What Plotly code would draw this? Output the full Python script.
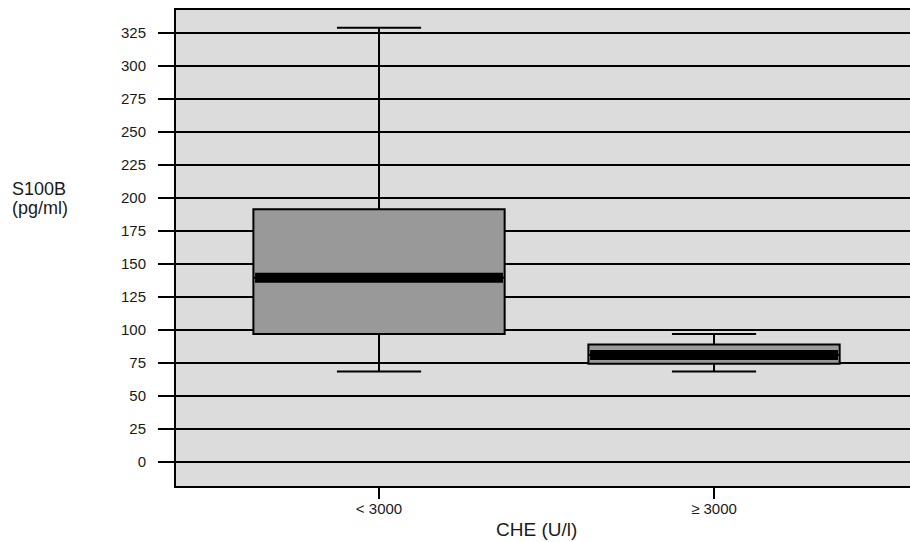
import plotly.graph_objects as go

categories = ["< 3000", "≥ 3000"]
positions = [0, 1]
lower_whisker = [68.5, 68.5]
q1 = [97, 74.5]
median = [139.5, 81]
q3 = [191.5, 89]
upper_whisker = [329, 97]
y_ticks = list(range(0, 326, 25))
y_title_lines = ["S100B", "(pg/ml)"]
x_title = "CHE (U/l)"

box_width = 0.75

fig = go.Figure()
for i, cat in enumerate(categories):
    fig.add_trace(go.Box(
        x=[positions[i]],
        q1=[q1[i]], median=[median[i]], q3=[q3[i]],
        lowerfence=[lower_whisker[i]], upperfence=[upper_whisker[i]],
        width=box_width, whiskerwidth=0.335,
        fillcolor="#999999",
        line=dict(color="black", width=2),
        boxpoints=False, showlegend=False, hoverinfo="skip",
    ))
    fig.add_trace(go.Scatter(
        x=[positions[i] - box_width / 2 + 0.005, positions[i] + box_width / 2 - 0.005],
        y=[median[i], median[i]],
        mode="lines", line=dict(color="black", width=10),
        showlegend=False, hoverinfo="skip",
    ))

font = "Liberation Sans, Arial, sans-serif"
txt = "#1a1a1a"
fig.update_layout(
    width=910, height=542,
    margin=dict(l=176, r=0, t=10, b=56),
    paper_bgcolor="white", plot_bgcolor="#dcdcdc",
    font=dict(family=font, color=txt),
    xaxis=dict(
        range=[-0.606, 1.585], tickvals=positions, ticktext=categories,
        showgrid=False, zeroline=False,
        showline=True, linecolor="black", linewidth=2, mirror=True,
        ticks="outside", ticklen=11, tickwidth=2, tickcolor="black",
        tickfont=dict(size=15), ticklabelstandoff=-3,
    ),
    yaxis=dict(
        range=[-18.2, 342.4], tickvals=y_ticks,
        showgrid=True, gridcolor="black", gridwidth=2,
        zeroline=False,
        showline=True, linecolor="black", linewidth=2,
        ticks="outside", ticklen=16, tickwidth=2, tickcolor="black",
        tickfont=dict(size=15), ticklabelstandoff=9,
    ),
    annotations=[
        dict(text=y_title_lines[0], xref="paper", yref="paper",
             x=(10 - 176) / 734, y=(486 - 189) / 476, xanchor="left", yanchor="middle",
             showarrow=False, font=dict(size=18, color=txt)),
        dict(text=y_title_lines[1], xref="paper", yref="paper",
             x=(10 - 176) / 734, y=(486 - 208) / 476, xanchor="left", yanchor="middle",
             showarrow=False, font=dict(size=18, color=txt)),
        dict(text=x_title, xref="paper", yref="paper",
             x=(536 - 176) / 734, y=(486 - 529) / 476, xanchor="center", yanchor="middle",
             showarrow=False, font=dict(size=19, color=txt)),
    ],
)
fig.write_html("out.html", config={"displayModeBar": False},
               post_script="document.body.style.margin='0';")
